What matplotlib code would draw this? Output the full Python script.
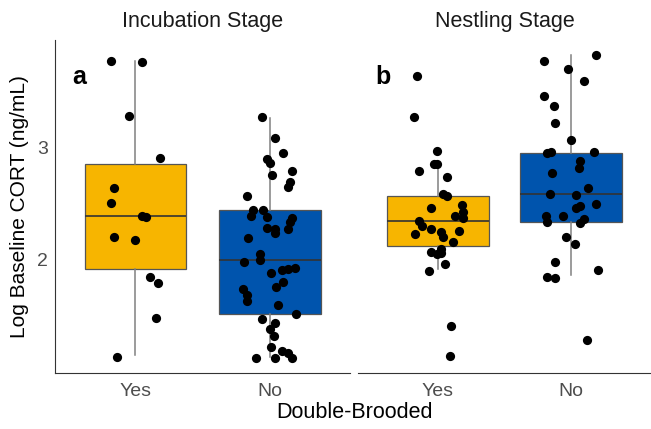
import numpy as np
import matplotlib
matplotlib.use("Agg")
import matplotlib.pyplot as plt

plt.rcParams['font.family'] = ['Liberation Sans', 'DejaVu Sans']

stages = ['Incubation Stage', 'Nestling Stage']
panel_tags = ['a', 'b']
groups = ['Yes', 'No']
fill_colors = ['#F7B500', '#0054AD']

# box stats: (whislo, q1, med, q3, whishi)
inc_yes_box = [1.15, 1.92, 2.39, 2.85, 3.77]
inc_no_box = [1.13, 1.52, 2.00, 2.44, 3.26]
nest_yes_box = [1.92, 2.12, 2.35, 2.57, 2.86]
nest_no_box = [1.86, 2.34, 2.59, 2.95, 3.83]

# points: log CORT values and horizontal jitter (in category units)
inc_yes_y = [3.77, 3.76, 3.28, 2.91, 2.64, 2.51, 2.39, 2.38, 2.20, 2.18,
             1.85, 1.79, 1.48, 1.13]
inc_yes_j = [-0.18, 0.05, -0.05, 0.18, -0.16, -0.18, 0.05, 0.08, -0.16, 0.00,
             0.11, 0.17, 0.15, -0.14]

inc_no_y = [3.27, 3.09, 2.95, 2.90, 2.86, 2.79, 2.76, 2.69, 2.65, 2.57,
            2.44, 2.39, 2.44, 2.38, 2.37, 2.34, 2.28, 2.27, 2.24, 2.27,
            2.19, 2.05, 2.00, 1.98, 1.88, 1.91, 1.92, 1.93, 1.80, 1.76,
            1.74, 1.69, 1.63, 1.60, 1.52, 1.47, 1.44, 1.38, 1.32, 1.22,
            1.19, 1.17, 1.12, 1.12, 1.12]
inc_no_j = [-0.06, 0.04, 0.10, -0.02, 0.00, 0.17, 0.02, 0.15, 0.14, -0.17,
            -0.12, -0.14, -0.05, -0.02, 0.17, 0.15, -0.02, 0.04, 0.04, 0.14,
            -0.16, -0.07, -0.07, -0.19, 0.01, 0.09, 0.14, 0.19, 0.10, 0.05,
            -0.20, -0.17, -0.17, 0.06, 0.20, -0.06, 0.04, 0.00, 0.03, 0.01,
            0.09, 0.14, -0.10, 0.04, 0.17]

nest_yes_y = [3.64, 3.27, 2.97, 2.85, 2.85, 2.79, 2.74, 2.59, 2.57, 2.49,
              2.46, 2.43, 2.39, 2.37, 2.35, 2.30, 2.27, 2.25, 2.26, 2.23,
              2.20, 2.16, 2.10, 2.07, 2.05, 2.06, 1.96, 1.90, 1.41, 1.14]
nest_yes_j = [-0.16, -0.18, -0.01, -0.03, -0.01, -0.14, 0.07, 0.04, 0.07, 0.18,
              -0.05, 0.19, 0.13, 0.19, -0.14, -0.12, -0.05, 0.02, 0.16, -0.17,
              0.04, 0.11, 0.02, -0.05, -0.01, 0.02, 0.05, -0.07, 0.10, 0.09]

nest_no_y = [3.83, 3.77, 3.70, 3.59, 3.46, 3.37, 3.22, 3.07, 2.95, 2.96,
             2.96, 2.88, 2.82, 2.77, 2.64, 2.59, 2.58, 2.50, 2.48, 2.46,
             2.39, 2.39, 2.34, 2.36, 2.33, 2.20, 2.14, 1.98, 1.91, 1.85,
             1.84, 1.28]
nest_no_j = [0.19, -0.20, -0.02, 0.10, -0.20, -0.13, -0.12, -0.00, -0.18, -0.15,
             0.17, 0.07, 0.06, -0.14, 0.13, -0.16, 0.04, 0.19, 0.07, 0.04,
             -0.19, -0.06, -0.18, 0.10, 0.07, -0.04, 0.03, -0.12, 0.20, -0.18,
             -0.12, 0.12]

panels = [
    ([inc_yes_box, inc_no_box], [(inc_yes_y, inc_yes_j), (inc_no_y, inc_no_j)]),
    ([nest_yes_box, nest_no_box], [(nest_yes_y, nest_yes_j), (nest_no_y, nest_no_j)]),
]

fig = plt.figure(figsize=(6.51, 4.29), dpi=100)
ax_left = fig.add_axes([55/651, 56/429, 295/651, 333/429])
ax_right = fig.add_axes([358/651, 56/429, 293/651, 333/429], sharey=ax_left)
axes = [ax_left, ax_right]

for i, ax in enumerate(axes):
    boxes, pts = panels[i]
    stats = []
    for b, g in zip(boxes, groups):
        stats.append(dict(whislo=b[0], q1=b[1], med=b[2], q3=b[3], whishi=b[4],
                          fliers=[], label=g))
    bp = ax.bxp(stats, positions=[1, 2], widths=0.76, patch_artist=True,
                showcaps=False, showfliers=False,
                boxprops=dict(edgecolor='#555555', linewidth=0.9),
                medianprops=dict(color='#333333', linewidth=1.2),
                whiskerprops=dict(color='#808080', linewidth=1.1))
    for patch, c in zip(bp['boxes'], fill_colors):
        patch.set_facecolor(c)
    for k, (yv, jv) in enumerate(pts):
        xs = (k + 1) + np.array(jv)
        ax.scatter(xs, yv, s=44, color='black', zorder=5, linewidths=0)

    ax.set_xlim(0.4, 2.6)
    ax.set_xticks([1, 2])
    ax.set_xticklabels(groups, fontsize=14, color='#4d4d4d')
    ax.tick_params(length=0, pad=7)
    for side in ['top', 'right']:
        ax.spines[side].set_visible(False)
    ax.spines['bottom'].set_color('#333333')
    ax.spines['left'].set_color('#333333')
    ax.set_title(stages[i], fontsize=15.5, pad=9, color='#1a1a1a')
    ax.text(0.06, 0.89, panel_tags[i], transform=ax.transAxes, fontsize=18,
            fontweight='bold', ha='left', va='center')

ax_left.set_ylim(0.99, 3.96)
ax_left.set_yticks([2, 3])
ax_left.tick_params(axis='y', labelsize=14, labelcolor='#4d4d4d', pad=5)
ax_left.set_ylabel('Log Baseline CORT (ng/mL)', fontsize=15, labelpad=6)

ax_right.spines['left'].set_visible(False)
ax_right.tick_params(axis='y', left=False, labelleft=False)

fig.text(354/651, 1 - 413/429, 'Double-Brooded', fontsize=15.5, ha='center', va='center')

fig.savefig('out.png', dpi=100)
